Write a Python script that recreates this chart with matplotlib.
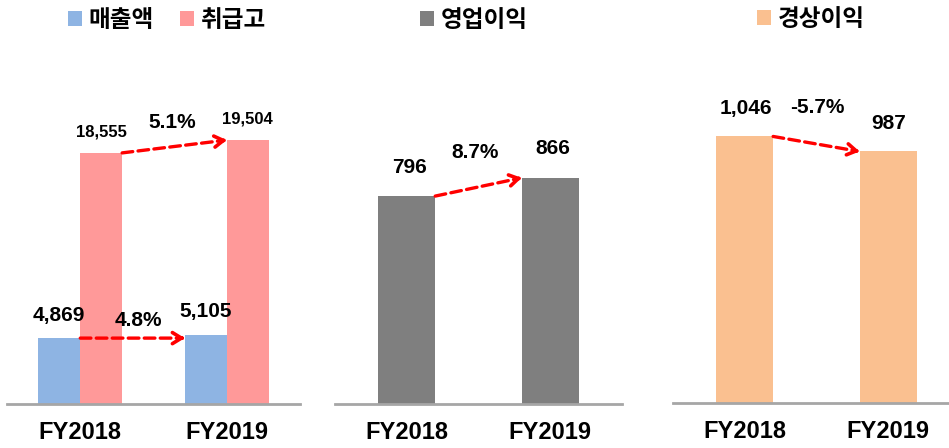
import matplotlib
matplotlib.use("Agg")
import matplotlib.pyplot as plt
import numpy as np

plt.rcParams['font.family'] = ['Liberation Sans', 'Noto Sans CJK KR', 'DejaVu Sans']

# ---- data ----
years = ["FY2018", "FY2019"]
sales = [4869, 5105]          # 매출액
handling = [18555, 19504]     # 취급고
op_income = [796, 866]        # 영업이익
ord_income = [1046, 987]      # 경상이익
sales_growth = "4.8%"
handling_growth = "5.1%"
op_growth = "8.7%"
ord_growth = "-5.7%"

C_BLUE = "#8EB4E3"
C_PINK = "#FF9999"
C_GRAY = "#7F7F7F"
C_PEACH = "#FAC090"
C_AXIS = "#A6A6A6"

W, H = 949, 448
fig = plt.figure(figsize=(W / 100, H / 100), dpi=100)

def add_ax(x0, x1, ytop, ybase):
    return fig.add_axes([x0 / W, 1 - ybase / H, (x1 - x0) / W, (ybase - ytop) / H])

def style(ax):
    for s in ["top", "right", "left"]:
        ax.spines[s].set_visible(False)
    ax.spines["bottom"].set_color(C_AXIS)
    ax.spines["bottom"].set_linewidth(2)
    ax.set_yticks([])
    ax.tick_params(axis="x", length=0, pad=12)
    ax.set_xticks(range(len(years)))
    ax.set_xticklabels(years, fontsize=17, fontweight="bold")

def value_label(ax, x, y, text, fs, dy_px, dx_px=0):
    ax.annotate(text, xy=(x, y), xytext=(dx_px * 0.72, dy_px * 0.72),
                textcoords="offset points", ha="center", va="center",
                fontsize=fs, fontweight="bold")

def arrow(ax, start, end, label, dy_px, dx_px=0):
    ax.annotate("", xy=end, xytext=start,
                arrowprops=dict(arrowstyle="-", color="red", lw=2.4,
                                linestyle=(0, (3.2, 1.6)), shrinkA=0, shrinkB=2))
    # solid arrow head
    p0 = ax.transData.transform(start)
    p1 = ax.transData.transform(end)
    d = (p1 - p0) / np.linalg.norm(p1 - p0)
    ax.annotate("", xy=end, xytext=(-d[0] * 3, -d[1] * 3), textcoords="offset points",
                arrowprops=dict(arrowstyle="->,head_length=0.65,head_width=0.4",
                                color="red", lw=2.6, shrinkA=0, shrinkB=0))
    mx = (start[0] + end[0]) / 2
    my = (start[1] + end[1]) / 2
    ax.annotate(label, xy=(mx, my), xytext=(dx_px * 0.72, dy_px * 0.72),
                textcoords="offset points", ha="center", va="center",
                fontsize=15, fontweight="bold")

x = np.arange(len(years))

# ---- Panel 1 ----
ax1 = add_ax(7, 300, 60, 404)
bw = 0.286
ax1.bar(x - bw / 2, sales, bw, color=C_BLUE, label="매출액")
ax1.bar(x + bw / 2, handling, bw, color=C_PINK, label="취급고")
ax1.set_xlim(-0.5, 1.5)
ax1.set_ylim(0, 25420)
style(ax1)
for i in range(2):
    value_label(ax1, x[i] - bw / 2, sales[i], f"{sales[i]:,}", 15, 23)
    value_label(ax1, x[i] + bw / 2, handling[i], f"{handling[i]:,}", 12, 21)
arrow(ax1, (x[0], sales[0]), (x[1] - bw, sales[0]), sales_growth, 18, 6)
arrow(ax1, (x[0] + bw, handling[0]), (x[1], handling[1]), handling_growth, 24, -2)

# ---- Panel 2 ----
ax2 = add_ax(335, 622, 60, 404)
bw2 = 0.397
ax2.bar(x, op_income, bw2, color=C_GRAY, label="영업이익")
ax2.set_xlim(-0.5, 1.5)
ax2.set_ylim(0, 1317)
style(ax2)
for i in range(2):
    value_label(ax2, x[i], op_income[i], f"{op_income[i]:,}", 15, 29, 3)
arrow(ax2, (x[0] + bw2 / 2, op_income[0]), (x[1] - bw2 / 2, op_income[1]), op_growth, 34, -3)

# ---- Panel 3 ----
ax3 = add_ax(673, 949, 60, 403)
ax3.bar(x, ord_income, bw2, color=C_PEACH, label="경상이익")
ax3.set_xlim(-0.5, 1.425)
ax3.set_ylim(0, 1346)
style(ax3)
for i in range(2):
    value_label(ax3, x[i], ord_income[i], f"{ord_income[i]:,}", 15, 28, 1)
arrow(ax3, (x[0] + bw2 / 2, ord_income[0]), (x[1] - bw2 / 2, ord_income[1]), ord_growth, 36, 1)

# ---- legends ----
leg_kw = dict(loc="center", bbox_transform=fig.transFigure, frameon=False,
              handlelength=0.6, handleheight=0.6, handletextpad=0.3,
              columnspacing=1.1, borderpad=0,
              prop=dict(family=['Noto Sans CJK KR'], weight="bold", size=17))
ax1.legend(ncol=2, bbox_to_anchor=(167 / W, 1 - 20 / H), **leg_kw)
ax2.legend(bbox_to_anchor=(474 / W, 1 - 20 / H), **leg_kw)
ax3.legend(bbox_to_anchor=(811 / W, 1 - 19 / H), **leg_kw)

fig.savefig("out.png", dpi=100)
